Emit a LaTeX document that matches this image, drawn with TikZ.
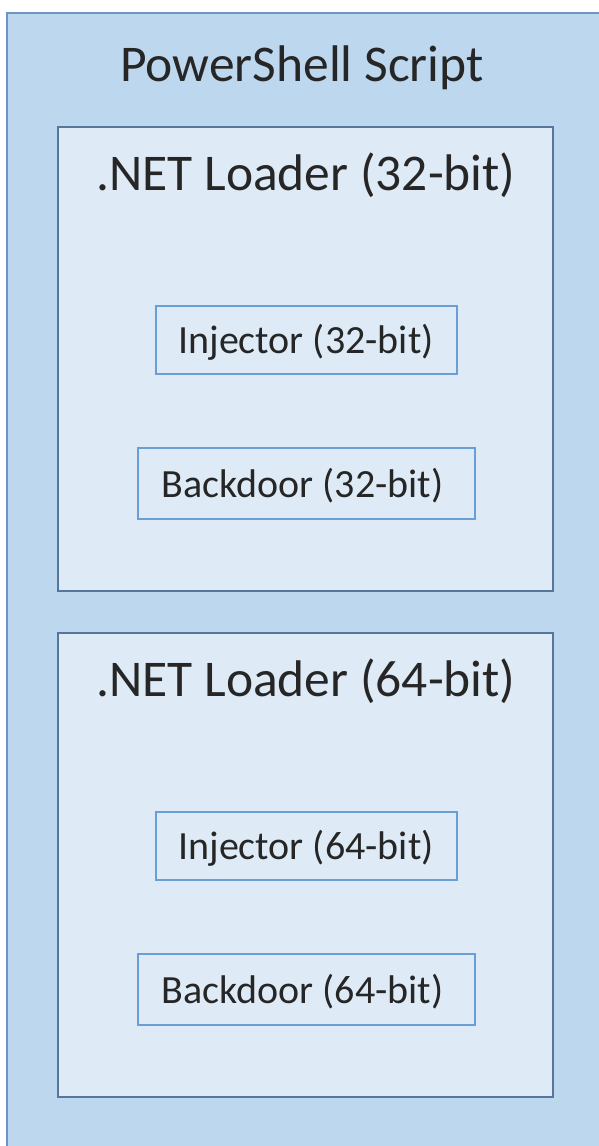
\documentclass[tikz,border=0pt]{standalone}
\usepackage{fontspec}
\setmainfont{Carlito}
\definecolor{outerfill}{HTML}{BDD7EE}
\definecolor{outerline}{HTML}{6E94C4}
\definecolor{innerfill}{HTML}{DEEBF7}
\definecolor{innerline}{HTML}{56769B}
\definecolor{smallline}{HTML}{6A9FD6}
\begin{document}
\begin{tikzpicture}[x=1pt,y=-1pt,
  outerbox/.style={fill=outerfill,draw=outerline,line width=2.4pt},
  innerbox/.style={fill=innerfill,draw=innerline,line width=2.2pt},
  smallbox/.style={fill=innerfill,draw=smallline,line width=1.8pt},
  bigtext/.style={font=\fontsize{51.5}{55}\selectfont,text=black!85},
  smalltext/.style={font=\fontsize{40}{44}\selectfont,text=black!85}]
\useasboundingbox (0,0) rectangle (599,1146);
\fill[white] (0,0) rectangle (599,1146);
\draw[outerbox] (7,13) rectangle (620,1170);
\node[bigtext] (ps) at (302,68) {PowerShell Script};
% loader 32
\draw[innerbox] (58,127) rectangle (553,591);
\node[bigtext] (l32) at (306,175) {.NET Loader (32-bit)};
\node[smallbox,minimum width=301pt,minimum height=68pt,inner sep=0pt] (i32) at (306.5,340) {};
\node[smalltext] (i32t) at (306,342) {Injector (32-bit)};
\node[smallbox,minimum width=337pt,minimum height=71pt,inner sep=0pt] (b32) at (306.5,483.5) {};
\node[smalltext] (b32t) at (302.5,486) {Backdoor (32-bit)};
% loader 64
\draw[innerbox] (58,633) rectangle (553,1097);
\node[bigtext] (l64) at (306,681) {.NET Loader (64-bit)};
\node[smallbox,minimum width=301pt,minimum height=68pt,inner sep=0pt] (i64) at (306.5,846) {};
\node[smalltext] (i64t) at (306,848) {Injector (64-bit)};
\node[smallbox,minimum width=337pt,minimum height=71pt,inner sep=0pt] (b64) at (306.5,989.5) {};
\node[smalltext] (b64t) at (302.5,992) {Backdoor (64-bit)};
\end{tikzpicture}
\end{document}
